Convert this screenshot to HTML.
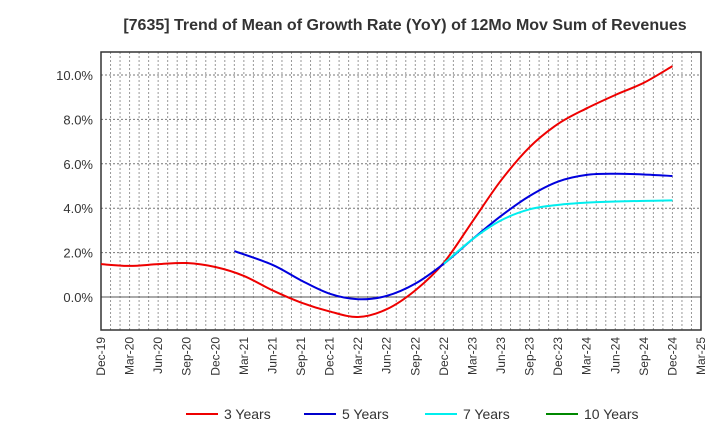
<!DOCTYPE html>
<html><head><meta charset="utf-8"><style>body{margin:0;background:#fff}svg{display:block;font-family:"Liberation Sans",sans-serif}</style></head>
<body>
<svg id="chart" width="720" height="440">
<text x="405" y="30" text-anchor="middle" font-size="16" font-weight="bold" fill="#333">[7635]  Trend of Mean of Growth Rate (YoY) of 12Mo Mov Sum of Revenues</text>
<g id="grid"></g><g id="axes"></g><g id="series"></g>
<g font-size="14" fill="#333">
<g><line x1="186" y1="414" x2="218" y2="414" stroke="#e00" stroke-width="2"/><text x="224" y="419">3 Years</text></g>
<g><line x1="304" y1="414" x2="336" y2="414" stroke="#00c" stroke-width="2"/><text x="342" y="419">5 Years</text></g>
<g><line x1="425" y1="414" x2="457" y2="414" stroke="#0ee" stroke-width="2"/><text x="463" y="419">7 Years</text></g>
<g><line x1="546" y1="414" x2="578" y2="414" stroke="#080" stroke-width="2"/><text x="584" y="419">10 Years</text></g>
</g>
</svg>
<script>
const xTickLabels=["Dec-19","Mar-20","Jun-20","Sep-20","Dec-20","Mar-21","Jun-21","Sep-21","Dec-21","Mar-22","Jun-22","Sep-22","Dec-22","Mar-23","Jun-23","Sep-23","Dec-23","Mar-24","Jun-24","Sep-24","Dec-24","Mar-25"];
const yTicks=[0,2,4,6,8,10];
const months3=[0,3,6,9,12,15,18,21,24,27,30,33,36,39,42,45,48,51,54,57,60];
const values3=[1.48,1.4,1.48,1.53,1.35,0.95,0.3,-0.25,-0.65,-0.9,-0.55,0.3,1.55,3.4,5.25,6.75,7.8,8.5,9.1,9.65,10.4];
const months5=[14,18,21,24,27,30,33,36,39,42,45,48,51,54,57,60];
const values5=[2.07,1.45,0.75,0.15,-0.1,0.05,0.6,1.5,2.6,3.65,4.55,5.2,5.5,5.55,5.52,5.45];
const months7=[36,39,42,45,48,51,54,57,60];
const values7=[1.5,2.6,3.45,3.95,4.15,4.25,4.3,4.33,4.35];
const L=101,R=701,T=52,B=330;
const xs=m=>L+m*(R-L)/63;
const ys=v=>297-v*22.2;
const NS="http://www.w3.org/2000/svg";
function mk(p,t,a){const e=document.createElementNS(NS,t);for(const k in a)e.setAttribute(k,a[k]);p.appendChild(e);return e;}
const grid=document.getElementById('grid'),axes=document.getElementById('axes'),ser=document.getElementById('series');
for(let m=1;m<63;m++){const l=mk(grid,'line',{x1:xs(m),x2:xs(m),y1:T,y2:B,stroke:'#999','stroke-dasharray':'2,2','stroke-width':1});

}
yTicks.forEach(v=>{const l=mk(grid,'line',{x1:L,x2:R,y1:ys(v),y2:ys(v),stroke:v==0?'#555':'#777','stroke-dasharray':v==0?'none':'2,2','stroke-width':1});


const t=mk(axes,'text',{x:L-8,y:ys(v)+5,'text-anchor':'end','font-size':13,fill:'#333'});t.textContent=v.toFixed(1)+'%';

});
const fr=mk(axes,'rect',{x:L,y:T,width:R-L,height:B-T,fill:'none',stroke:'#333','stroke-width':1.5});


xTickLabels.forEach((s,i)=>{const x=xs(i*3);const t=mk(axes,'text',{x:0,y:0,transform:`translate(${x+4},337) rotate(-90)`,'text-anchor':'end','font-size':12,fill:'#333'});t.textContent=s;

});
function path(ms,vs){const p=ms.map((m,i)=>[xs(m),ys(vs[i])]);let d=`M${p[0][0]},${p[0][1]}`;
for(let i=0;i<p.length-1;i++){const p0=p[i-1]||p[i],p1=p[i],p2=p[i+1],p3=p[i+2]||p2;
d+=` C${p1[0]+(p2[0]-p0[0])/6},${p1[1]+(p2[1]-p0[1])/6} ${p2[0]-(p3[0]-p1[0])/6},${p2[1]-(p3[1]-p1[1])/6} ${p2[0]},${p2[1]}`;}return d;}
[[months3,values3,'#e00','line-3-years'],[months5,values5,'#00d','line-5-years'],[months7,values7,'#0ee','line-7-years']].forEach(([m,v,c,n])=>{
const e=mk(ser,'path',{d:path(m,v),fill:'none',stroke:c,'stroke-width':2});

});
</script>
</body></html>
